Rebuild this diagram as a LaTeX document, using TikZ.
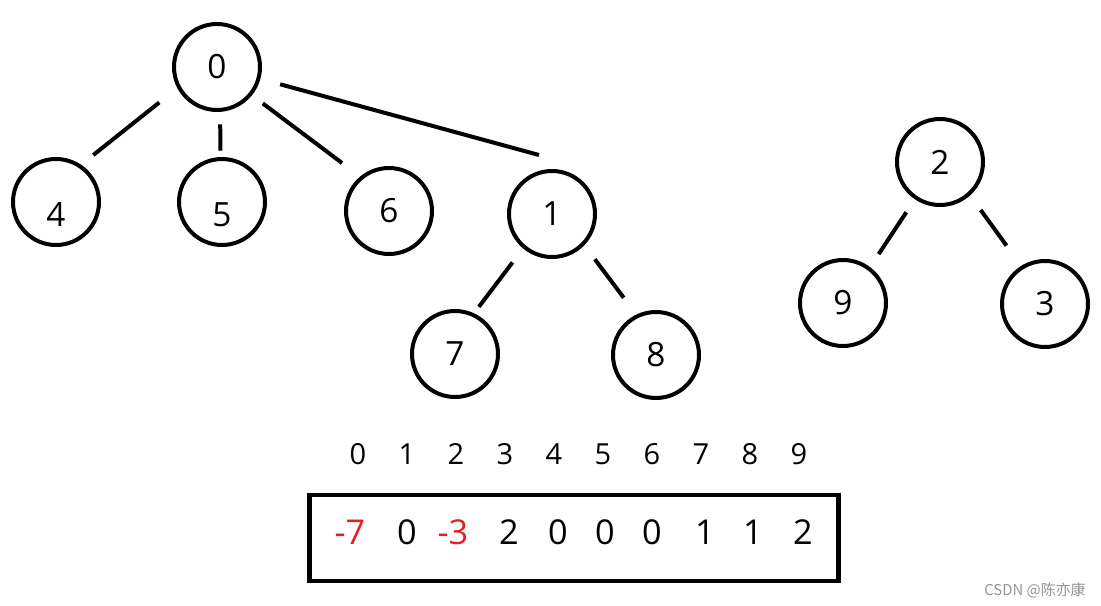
\documentclass[tikz,border=0pt]{standalone}
\usepackage{fontspec}
\setmainfont{Open Sans}
\newfontfamily\cjk{Noto Sans CJK SC}
\usetikzlibrary{positioning}
\definecolor{negred}{RGB}{236,28,36}

\begin{document}
\begin{tikzpicture}[x=0.02cm,y=-0.02cm,
  vertex/.style={circle,draw,line width=0.08cm,minimum size=1.72cm,inner sep=0pt,
    font=\fontsize{19}{22}\selectfont},
  low/.style={text height=0.98cm},
  link/.style={line width=0.08cm},
  idx/.style={font=\fontsize{16.5}{19}\selectfont},
  val/.style={font=\fontsize{19.5}{22}\selectfont}]
  \useasboundingbox (0,0) rectangle (1101,605);
  % first tree
  \path
  node[vertex] (n0) at (217,67) {0}
  node[vertex,low] (n4) at (56,202) {4}
  node[vertex,low] (n5) at (222,202) {5}
  node[vertex] (n6) at (389,211) {6}
  node[vertex] (n1) at (552,214) {1}
  node[vertex] (n7) at (455,354) {7}
  node[vertex] (n8) at (656,355) {8}
  ;
  % second tree
  \path
  node[vertex] (n2) at (940,162) {2}
  node[vertex] (n9) at (843,303) {9}
  node[vertex] (n3) at (1045,304) {3}
  ;
  \path[link]
  (n0.208) edge[shorten <=0.46cm, shorten >=0.31cm] (n4.56)
  (n0.274) edge[shorten <=0.25cm, shorten >=0.13cm] (n5.92)
  (n0.-39) edge[shorten <=0.27cm, shorten >=0.45cm] (n6.130)
  (n0) edge[shorten <=0.41cm] ([shift={(-13,-14)}]n1.north)

  (n1.230) edge[shorten <=0.35cm, shorten >=0.16cm] (n7.65)
  (n1.-44) edge[shorten <=0.35cm, shorten >=0.42cm] (n8.116)

  (n2.236) edge[shorten <=0.31cm, shorten >=0.31cm] (n9.53)
  (n2.-48) edge[shorten <=0.36cm, shorten >=0.50cm] (n3.122)
  ;
  % the array
  \node[draw,line width=0.09cm,minimum width=10.58cm,minimum height=1.72cm,inner sep=0pt]
    (arr) at (574,538) {};
  \foreach \i in {0,...,9}
    \node[idx] (i\i) at (358+49*\i,454) {\i};
  \foreach \v/\x/\c [count=\k from 0] in {-7/350/negred,0/407/black,-3/453/negred,
      2/509/black,0/558/black,0/605/black,0/652/black,1/705/black,1/753/black,2/803/black}
    \node[val,text=\c] (v\k) at (\x,532) {\v};
  \node[anchor=east,inner sep=0pt,text=black!42,font=\cjk\fontsize{8.5}{10}\selectfont]
    (mark) at (1086,590) {CSDN @陈亦康};
\end{tikzpicture}
\end{document}
